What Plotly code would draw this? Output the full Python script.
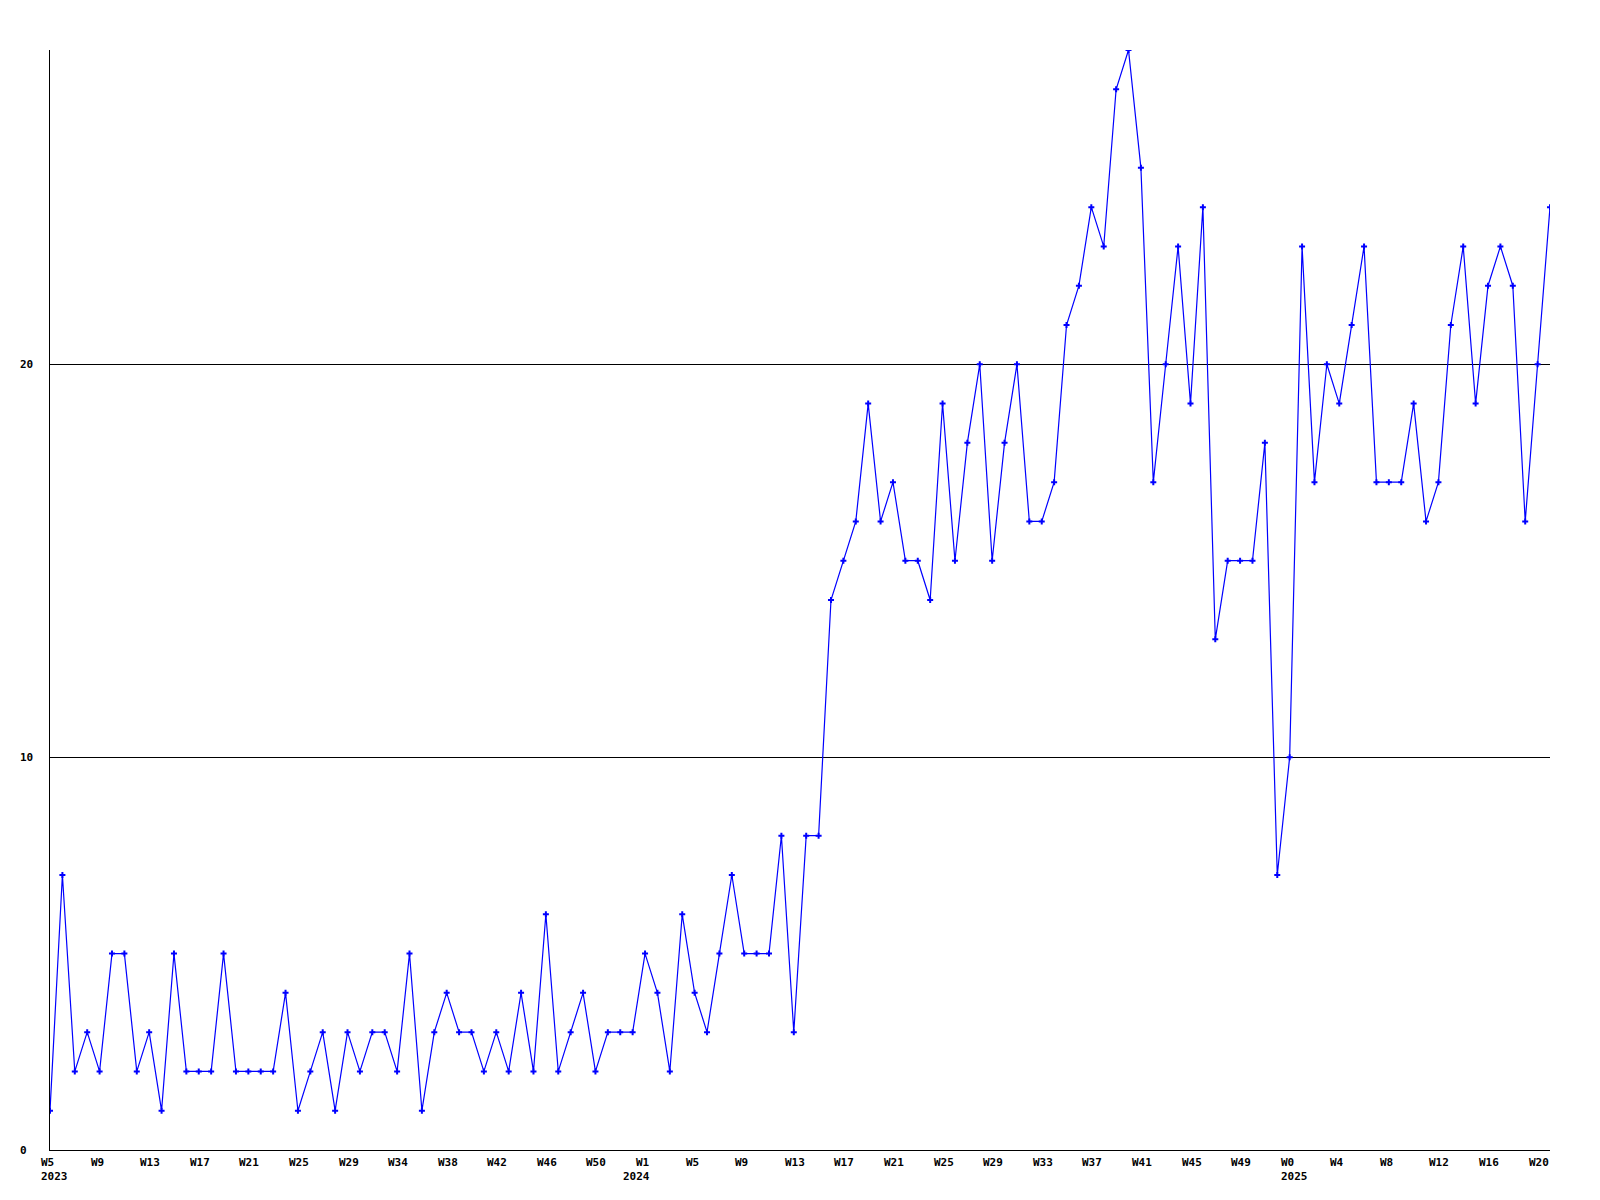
import plotly.graph_objects as go

values = [1, 7, 2, 3, 2, 5, 5, 2, 3, 1,
          5, 2, 2, 2, 5, 2, 2, 2, 2, 4,
          1, 2, 3, 1, 3, 2, 3, 3, 2, 5,
          1, 3, 4, 3, 3, 2, 3, 2, 4, 2,
          6, 2, 3, 4, 2, 3, 3, 3, 5, 4,
          2, 6, 4, 3, 5, 7, 5, 5, 5, 8,
          3, 8, 8, 14, 15, 16, 19, 16, 17, 15,
          15, 14, 19, 15, 18, 20, 15, 18, 20, 16,
          16, 17, 21, 22, 24, 23, 27, 28, 25, 17,
          20, 23, 19, 24, 13, 15, 15, 15, 18, 7,
          10, 23, 17, 20, 19, 21, 23, 17, 17, 17,
          19, 16, 17, 21, 23, 19, 22, 23, 22, 16,
          20, 24]

tick_labels = ["W5", "W9", "W13", "W17", "W21", "W25", "W29", "W34",
               "W38", "W42", "W46", "W50", "W1", "W5", "W9", "W13",
               "W17", "W21", "W25", "W29", "W33", "W37", "W41", "W45", "W49",
               "W0", "W4", "W8", "W12", "W16", "W20"]

year_labels = ["2023", "2024", "2025"]
year_index = [0, 48, 100]
year_shift = [-11, -24, -11]

y_ticks = [0, 10, 20]
y_labels = ["0", "10", "20"]

x = list(range(len(values)))
tick_pos = list(range(0, len(values), 4))[:len(tick_labels)]

fig = go.Figure()
fig.add_trace(go.Scatter(
    x=x, y=values, mode="lines+markers",
    line=dict(color="#0000ff", width=1.2),
    marker=dict(symbol="cross", size=5, color="#0000ff", line=dict(width=0)),
    hoverinfo="skip", showlegend=False,
))

lab_font = dict(family="DejaVu Sans Mono", size=11, color="black", weight="bold")
annotations = []
for p, t in zip(tick_pos, tick_labels):
    annotations.append(dict(
        x=p, y=0, xref="x", yref="paper", text=t, showarrow=False,
        xanchor="left", yanchor="top", align="left", xshift=-11, yshift=-4,
        font=lab_font,
    ))
for p, t, s in zip(year_index, year_labels, year_shift):
    annotations.append(dict(
        x=p, y=0, xref="x", yref="paper", text=t, showarrow=False,
        xanchor="left", yanchor="top", align="left", xshift=s, yshift=-18,
        font=lab_font,
    ))
for v, t in zip(y_ticks, y_labels):
    annotations.append(dict(
        x=0, y=v, xref="paper", yref="y", text=t, showarrow=False,
        xanchor="left", yanchor="middle", align="left", xshift=-32,
        font=lab_font,
    ))

fig.update_layout(
    width=1600, height=1200,
    margin=dict(l=42, r=58, t=42, b=58, pad=0),
    paper_bgcolor="white", plot_bgcolor="white",
    annotations=annotations,
    xaxis=dict(range=[0, len(values) - 1], showgrid=False, zeroline=False,
               showline=True, linecolor="black", linewidth=1,
               showticklabels=False, ticks=""),
    yaxis=dict(range=[0, 28], tickvals=y_ticks, showgrid=True,
               gridcolor="black", gridwidth=1, zeroline=False,
               showline=True, linecolor="black", linewidth=1,
               showticklabels=False, ticks=""),
)

fig.write_html("out.html")
